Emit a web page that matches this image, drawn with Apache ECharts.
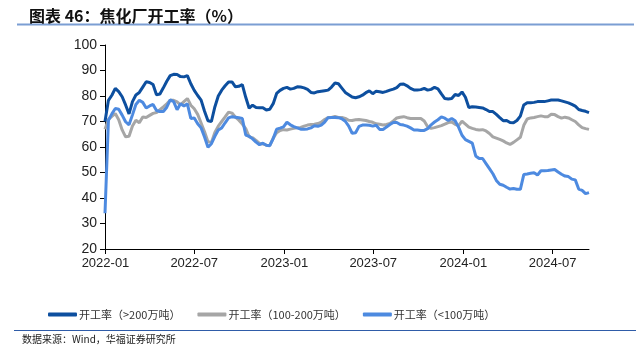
<!DOCTYPE html>
<html>
<head>
<meta charset="utf-8">
<script src="https://cdn.jsdelivr.net/npm/echarts@6/dist/echarts.min.js"></script>
<style>
html,body{margin:0;padding:0;background:#fff;}
#c{width:636px;height:353px;}
</style>
</head>
<body>
<div id="c"></div>
<script>
// Weekly observations starting on this date
var startDate = '2021-12-31';
var seriesNames = ['开工率（>200万吨）', '开工率（100-200万吨）', '开工率（<100万吨）'];
var tickLabels = ['2022-01', '2022-07', '2023-01', '2023-07', '2024-01', '2024-07'];

var large = [70,78.3,80.3,83,81.7,79.7,76.5,73,77.8,80.4,81.4,83.5,85.6,85.3,84.5,80.5,80.8,83.2,85.8,88,
88.5,88.4,87.6,87.5,88,84.8,82.2,80.2,78.4,74,70.3,70,75.7,80,82.3,84,85.5,85.5,83.6,83.8,
84.5,79.5,75.2,76.4,75.5,75.4,75.4,74.5,74.8,77,81,82.2,83,83.4,82.7,83,83.6,83.5,83.2,82.6,
81.4,81.2,81.7,81.9,82.1,82.3,83.5,85.1,84.8,83.1,81.4,80.5,79.6,79.3,79.7,80.3,81.3,82,80.9,81.9,
81.7,81.4,81.8,82.3,82.7,83.3,84.6,84.7,84,83,82.4,82.4,82.5,83,82.3,82.6,83.4,82.8,80.8,79,
78.8,79,80.6,80.2,81.6,79.5,75.5,75.8,75.7,75.5,75.3,74.7,73.9,73.9,72.8,71.5,70.3,70.4,69.6,69.5,
70.4,72.1,76.5,77.4,77.4,77.5,77.8,77.8,77.8,78.1,78.4,78.4,78.4,78.1,77.7,77.3,76.7,76,74.7,74.3,
74,73.5];

var medium = [67,70.8,72,73.1,70.7,66.7,64,64.2,68.2,70.5,69.5,71.8,71.6,72.4,73.2,73.5,74.6,75.7,76.9,78.3,
78.3,77.7,76.5,77.8,79,76.4,75,72.8,69.4,66,62.1,61.8,65.7,68.2,70,71.8,73.7,73.3,71.7,70.5,
69,67.2,64,63.6,62.6,61.4,61.2,60.7,60.6,63.5,65.6,66.5,66.8,66.7,67,67.3,67.5,67.7,68.2,68.6,
68.8,68.9,69.2,69.7,70.8,71.6,71.6,72,71.6,71.6,71.2,70.5,70.4,70.7,70.8,70.6,70.4,70,69.7,69.1,
68.9,68.6,68.8,69.2,70.2,71.4,71.7,71.9,71.5,71.2,71.2,71.2,71.2,70.2,67.9,67.3,67.6,68,68.4,69,
69.6,69.8,68.9,68.4,70.1,69,67.8,67.3,66.9,66.7,66.8,66.3,65.3,64,63.5,63,62.4,61.6,61,61.8,
62.8,63.8,68.5,71,71.4,71.6,71.9,72.2,71.9,71.9,72.8,72.7,71.9,71.3,71.7,71.4,70.7,70,68.7,67.6,
67.2,66.9];

var small = [34,70.5,73,75.1,74.8,72.5,69.9,68.7,72.6,76.7,78.3,77.5,75.3,76.1,76.7,74.3,73.9,73.9,75.6,78.5,
77.8,74.6,77,76.1,76.9,71.2,71.4,69.1,67.5,63.9,59.9,61.3,64.2,66.7,67.5,69.5,71.4,71.9,71.7,71.5,
71.2,64.7,64.2,63.2,61.9,60.9,61.5,60.7,60.5,63.3,67,67.4,67.9,69.7,68.7,68,67.5,67,67,67.1,
67.5,68.3,68.1,68.6,69.8,71.5,71.6,71.6,71.5,71.1,70.1,68.2,65.4,65.6,68.1,68.6,68.6,68.5,68.2,68.5,
66.9,66.9,67.8,68.8,69.6,69.6,68.8,68.6,68.2,67.5,66.7,66.7,66.5,66.5,67.2,68.7,69.8,70.7,71.8,71.3,
70.4,71.2,70.3,67.8,64.6,62.9,62.2,61.5,56.5,55.5,55.5,53.5,51.5,49.5,46.9,45.4,45,44.2,43.5,43.7,
43.4,43.4,49.2,49.4,49.7,49.9,49,50.7,50.7,50.8,51,51.2,50.2,49.3,48.6,48.4,47.4,47.1,43.5,43,
41.7,42.1];

var colors = ['#0d4f9f', '#a6a6a6', '#4d8ae0'];

function ts(s){ var p = s.split('-'); return Date.UTC(+p[0], +p[1]-1, +(p[2]||1)); }
var DAY = 86400000;
var t0 = ts(startDate);
function pairs(vals){ return vals.map(function(v,i){ return [t0 + i*7*DAY, v]; }); }
var tickValues = tickLabels.map(function(s){ return ts(s); });
var labelOf = {};
tickLabels.forEach(function(s,i){ labelOf[tickValues[i]] = s; });
var lastT = t0 + (large.length-1)*7*DAY;

var chart = echarts.init(document.getElementById('c'), null, {renderer:'canvas'});
var font = 'Liberation Sans, Arial, sans-serif';
var cjk = '"Noto Sans CJK SC", sans-serif';

chart.setOption({
  animation:false,
  backgroundColor:'#fff',
  title:{
    text:'图表 46：焦化厂开工率（%）',
    left:24, top:3,
    textStyle:{fontFamily:cjk, fontSize:16, fontWeight:'bold', color:'#111'}
  },
  graphic:[
    {type:'line', shape:{x1:17,y1:24.5,x2:634,y2:24.5}, style:{stroke:'#7b9ed3', lineWidth:2}},
    {type:'line', shape:{x1:14,y1:330.5,x2:636,y2:330.5}, style:{stroke:'#2f5ca8', lineWidth:1}},
    {type:'text', left:22, top:334, style:{text:'数据来源：Wind，华福证券研究所', fontFamily:cjk, fontSize:10, fill:'#222'}}
  ],
  legend:{
    left:43, top:304,
    itemWidth:29, itemHeight:4, itemGap:17,
    icon:'roundRect',
    textStyle:{fontFamily:cjk, fontSize:11, color:'#333', padding:[0,0,0,-3]},
    data:seriesNames
  },
  grid:{left:105, right:47, top:45, bottom:104},
  xAxis:{
    type:'value',
    min:t0, max:lastT,
    axisLine:{lineStyle:{color:'#000', width:1}},
    axisTick:{show:true, customValues:tickValues, length:5, lineStyle:{color:'#000'}},
    axisLabel:{customValues:tickValues, fontFamily:font, fontSize:13, color:'#222', margin:8,
      formatter:function(v){ return labelOf[v] || ''; }},
    splitLine:{show:false}
  },
  yAxis:{
    type:'value', min:20, max:100, interval:10,
    axisLine:{show:true, lineStyle:{color:'#000', width:1}},
    axisTick:{show:true, length:5, lineStyle:{color:'#000'}},
    axisLabel:{fontFamily:font, fontSize:14, color:'#222', margin:8},
    splitLine:{show:false}
  },
  series:[
    {name:seriesNames[0], type:'line', data:pairs(large), symbol:'none', lineStyle:{width:3, color:colors[0]}, itemStyle:{color:colors[0]}, z:3},
    {name:seriesNames[1], type:'line', data:pairs(medium), symbol:'none', lineStyle:{width:3, color:colors[1]}, itemStyle:{color:colors[1]}, z:1},
    {name:seriesNames[2], type:'line', data:pairs(small), symbol:'none', lineStyle:{width:3, color:colors[2]}, itemStyle:{color:colors[2]}, z:2}
  ]
});
</script>
</body>
</html>
